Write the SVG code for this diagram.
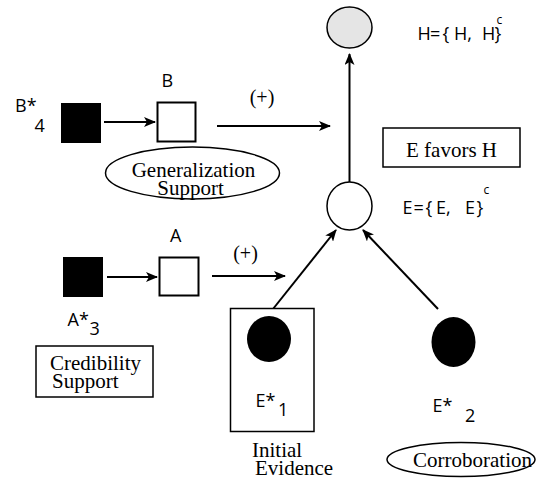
<svg xmlns="http://www.w3.org/2000/svg" width="537" height="482" viewBox="0 0 537 482">
<style>
.s{font-family:"Open Sans","Noto Sans","DejaVu Sans",sans-serif;font-size:18px;fill:#000}
.sup{font-size:12px}
.t{font-family:"Liberation Serif","Times New Roman",serif;font-size:21px;fill:#000}
.p{font-family:"Liberation Serif","Times New Roman",serif;font-size:20px;fill:#000}
.ln{stroke:#000;stroke-width:2;fill:none}
.box{fill:#fff;stroke:#000;stroke-width:1.5}
.wsq{fill:#fff;stroke:#000;stroke-width:2}
</style>
<defs>
<marker id="ah" viewBox="0 0 12 10" refX="11" refY="5" markerWidth="12" markerHeight="10" markerUnits="userSpaceOnUse" orient="auto">
<path d="M0,0 L12,5 L0,10 L3,5 Z" fill="#000"/>
</marker>
</defs>
<rect width="537" height="482" fill="#fff"/>
<g id="connectors">
<line class="ln" x1="349.5" y1="182" x2="349.5" y2="54" marker-end="url(#ah)"/>
<line class="ln" x1="104" y1="122" x2="155" y2="122" marker-end="url(#ah)"/>
<line class="ln" x1="217" y1="126" x2="330" y2="126" marker-end="url(#ah)"/>
<line class="ln" x1="107" y1="277" x2="157" y2="277" marker-end="url(#ah)"/>
<line class="ln" x1="212" y1="276" x2="285" y2="276" marker-end="url(#ah)"/>
<line class="ln" x1="273" y1="309" x2="336" y2="230" marker-end="url(#ah)"/>
<line class="ln" x1="438" y1="309" x2="363" y2="230" marker-end="url(#ah)"/>
<text class="p" x="262" y="104" text-anchor="middle">(+)</text>
<text class="p" x="245.5" y="260" text-anchor="middle">(+)</text>
</g>
<g id="H">
<ellipse cx="349.5" cy="27.5" rx="22.5" ry="20.5" fill="#e5e5e5" stroke="#000" stroke-width="1.5"/>
<text class="s" y="39.5"><tspan x="417.5">H</tspan><tspan x="430">=</tspan><tspan x="442.5">{</tspan><tspan x="454">H,</tspan><tspan x="482">H</tspan><tspan x="494.5">}</tspan><tspan class="sup" x="496.5" y="24">c</tspan></text>
</g>
<g id="E">
<ellipse cx="349.5" cy="206" rx="22.5" ry="24" fill="#fff" stroke="#000" stroke-width="1.5"/>
<text class="s" y="214"><tspan x="402.5">E</tspan><tspan x="413.5">=</tspan><tspan x="425.5">{</tspan><tspan x="436">E,</tspan><tspan x="465">E</tspan><tspan x="476.5">}</tspan><tspan class="sup" x="483.5" y="194">c</tspan></text>
</g>
<g id="favors">
<rect class="box" x="383" y="128" width="137" height="39"/>
<text class="t" x="451.5" y="157" text-anchor="middle">E favors H</text>
</g>
<g id="Bstar">
<rect x="61" y="103" width="40" height="40" fill="#000"/>
<text class="s" x="15" y="112">B*<tspan x="34.5" y="132">4</tspan></text>
</g>
<g id="B">
<rect class="wsq" x="157.5" y="102.5" width="38" height="39"/>
<text class="s" x="161.5" y="87">B</text>
</g>
<g id="generalization">
<ellipse cx="192.5" cy="173" rx="87" ry="26" fill="#fff" stroke="#000" stroke-width="1.5"/>
<text class="t" text-anchor="middle"><tspan x="193.5" y="177">Generalization</tspan><tspan x="190.5" y="195">Support</tspan></text>
</g>
<g id="Astar">
<rect x="63" y="257" width="40" height="40" fill="#000"/>
<text class="s" x="67.5" y="326">A*<tspan x="89.5" y="335">3</tspan></text>
</g>
<g id="A">
<rect class="wsq" x="159.5" y="257.5" width="39" height="38"/>
<text class="s" x="170" y="242">A</text>
</g>
<g id="credibility">
<rect class="box" x="36" y="346" width="117" height="51"/>
<text class="t"><tspan x="50" y="370">Credibility</tspan><tspan x="52" y="388">Support</tspan></text>
</g>
<g id="E1">
<rect class="box" x="230.5" y="308.5" width="83.5" height="123"/>
<ellipse cx="269" cy="339" rx="22" ry="23" fill="#000"/>
<text class="s" x="255.5" y="407">E*<tspan x="278" y="416">1</tspan></text>
<text class="t"><tspan x="252" y="457">Initial</tspan><tspan x="255" y="475">Evidence</tspan></text>
</g>
<g id="E2">
<ellipse cx="453.5" cy="342" rx="22" ry="25" fill="#000"/>
<text class="s" x="432.5" y="412">E*<tspan x="465" y="422">2</tspan></text>
<ellipse cx="461" cy="459.5" rx="74" ry="17" fill="#fff" stroke="#000" stroke-width="1.5"/>
<text class="t" x="472.5" y="467" text-anchor="middle">Corroboration</text>
</g>
</svg>
